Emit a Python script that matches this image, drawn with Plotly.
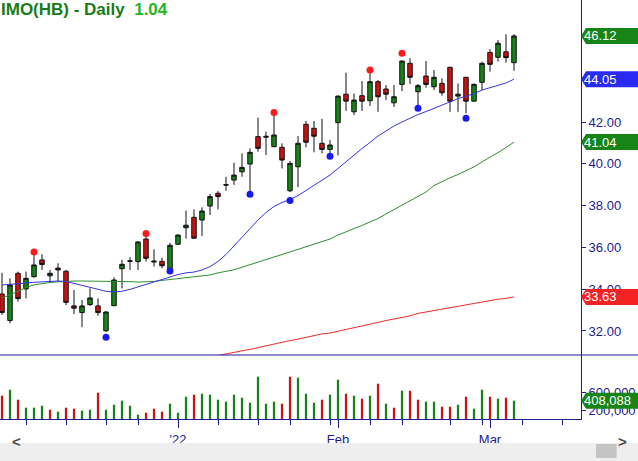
import plotly.graph_objects as go

# IMO(HB) daily bars, index = trading day (late Nov 2021 .. Mar 4 2022)
opens = [33.77, 32.50, 34.76, 34.01, 34.60, 35.40, 34.64, 35.01, 34.86, 33.20,
         32.88, 33.26, 33.20, 32.01, 33.21, 34.98, 35.36, 35.32, 36.40, 35.30,
         35.33, 34.95, 36.15, 36.94, 37.44, 37.31, 37.98, 38.59, 38.98, 39.22,
         39.62, 39.99, 41.30, 41.32, 40.82, 40.79, 38.71, 39.86, 41.89, 41.70,
         40.98, 40.69, 41.97, 43.33, 42.49, 43.26, 43.02, 43.93, 43.58, 42.92,
         43.80, 44.81, 43.45, 44.20, 43.69, 43.85, 44.62, 43.24, 44.14, 43.00,
         43.90, 45.33, 45.10, 45.36, 44.84]
highs = [34.78, 34.52, 34.84, 34.84, 35.64, 35.67, 34.92, 35.24, 34.92, 33.96,
         33.48, 34.04, 33.56, 32.93, 34.57, 35.40, 35.53, 36.30, 36.59, 35.91,
         35.51, 36.22, 36.62, 37.76, 37.82, 37.92, 38.56, 38.70, 39.38, 40.05,
         40.50, 40.74, 42.21, 41.54, 42.33, 40.98, 40.13, 41.33, 42.05, 42.05,
         42.15, 41.14, 43.27, 44.36, 43.37, 43.96, 44.36, 44.01, 43.77, 43.77,
         44.94, 45.05, 43.82, 44.92, 44.49, 44.09, 44.64, 43.85, 44.16, 43.85,
         44.89, 45.49, 45.92, 46.20, 46.20]
lows = [32.77, 32.37, 33.40, 33.56, 34.55, 34.92, 34.31, 34.36, 33.24, 32.81,
        32.18, 33.20, 32.73, 31.95, 33.20, 34.04, 34.92, 34.92, 35.32, 35.08,
        35.00, 34.93, 36.12, 36.42, 36.42, 36.55, 37.55, 37.82, 38.71, 38.99,
        39.38, 38.59, 40.58, 40.42, 40.80, 39.78, 38.65, 38.88, 40.79, 40.55,
        40.50, 40.47, 40.40, 42.53, 42.33, 42.53, 42.77, 42.49, 43.05, 42.72,
        43.48, 43.82, 42.77, 43.64, 43.53, 43.26, 42.49, 42.49, 42.42, 42.98,
        43.53, 44.41, 44.89, 44.84, 44.45]
closes = [32.88, 34.20, 33.55, 34.52, 35.16, 35.18, 34.76, 34.92, 33.37, 33.09,
          33.20, 33.58, 32.88, 32.91, 34.44, 35.19, 35.34, 36.26, 35.48, 35.34,
          35.12, 36.10, 36.59, 37.06, 36.44, 37.74, 38.43, 38.43, 39.00, 39.46,
          39.83, 40.55, 40.74, 41.28, 41.38, 40.18, 40.02, 40.98, 41.03, 41.32,
          40.69, 40.90, 43.24, 43.00, 43.05, 43.00, 43.93, 43.21, 43.33, 43.21,
          44.92, 44.14, 43.74, 43.80, 44.14, 43.40, 43.00, 43.33, 43.00, 43.80,
          44.81, 44.76, 45.77, 45.08, 46.12]
volumes = [520000, 653000, 430000, 252000, 252000, 297000, 207000, 163000, 252000, 230000,
           185000, 207000, 586000, 207000, 319000, 408000, 297000, 96000, 140000, 230000,
           163000, 341000, 140000, 497000, 542000, 564000, 542000, 430000, 386000, 542000,
           475000, 363000, 943000, 341000, 386000, 341000, 943000, 921000, 564000, 363000,
           430000, 542000, 876000, 564000, 520000, 453000, 520000, 787000, 341000, 252000,
           631000, 631000, 430000, 386000, 386000, 274000, 274000, 319000, 497000, 230000,
           653000, 497000, 453000, 475000, 408088]

ma_short = [34.20, 34.24, 34.28, 34.30, 34.33, 34.35, 34.38, 34.39, 34.37, 34.28,
            34.18, 34.08, 33.99, 33.90, 33.87, 33.90, 33.99, 34.11, 34.22, 34.33,
            34.46, 34.60, 34.70, 34.78, 34.82, 34.92, 35.08, 35.33, 35.66, 36.07,
            36.50, 36.90, 37.31, 37.67, 37.96, 38.15, 38.29, 38.48, 38.72, 38.94,
            39.18, 39.46, 39.78, 40.11, 40.40, 40.73, 41.02, 41.33, 41.57, 41.81,
            42.00, 42.19, 42.36, 42.50, 42.65, 42.81, 42.98, 43.12, 43.24, 43.36,
            43.53, 43.65, 43.77, 43.87, 44.05]
ma_mid = [33.58, 33.72, 33.91, 34.08, 34.21, 34.27, 34.32, 34.35, 34.38, 34.39,
          34.39, 34.39, 34.39, 34.39, 34.38, 34.37, 34.36, 34.34, 34.34, 34.37,
          34.42, 34.46, 34.51, 34.55, 34.58, 34.62, 34.68, 34.78, 34.86, 34.93,
          35.05, 35.18, 35.29, 35.42, 35.54, 35.66, 35.78, 35.90, 36.02, 36.16,
          36.29, 36.40, 36.59, 36.74, 36.88, 37.05, 37.22, 37.38, 37.60, 37.81,
          38.05, 38.27, 38.46, 38.65, 38.96, 39.15, 39.33, 39.49, 39.66, 39.85,
          40.09, 40.30, 40.54, 40.78, 41.04]
ma_long = [None] * 26 + [
    30.75, 30.83, 30.92, 30.99, 31.05, 31.12, 31.21, 31.29, 31.38, 31.46,
    31.54, 31.61, 31.69, 31.78, 31.86, 31.90, 31.98, 32.06, 32.14, 32.23,
    32.31, 32.41, 32.50, 32.57, 32.65, 32.72, 32.84, 32.91, 32.98, 33.05,
    33.12, 33.20, 33.27, 33.34, 33.41, 33.47, 33.52, 33.56, 33.63]

pivot_hi_idx = [4, 18, 34, 46, 50]
pivot_hi_val = [35.78, 36.67, 42.46, 44.49, 45.29]
pivot_lo_idx = [13, 21, 31, 36, 41, 52, 58]
pivot_lo_val = [31.70, 34.87, 38.54, 38.25, 40.36, 42.66, 42.18]

date_tick_idx = [22, 42, 61]
date_tick_txt = ["'22", "Feb", "Mar"]
week_tick_idx = [3, 8, 13, 17, 27, 32, 36, 41, 46, 50, 56, 60, 65, 70]
price_ticks = [32, 34, 36, 38, 40, 42]
vol_ticks = [200000, 600000]
change_txt = "1.04"

NAVY = "#1c1c8c"
GREEN = "#168416"
RED = "#cc1111"
FONT = "Liberation Sans, Arial, sans-serif"

x = list(range(len(closes)))
vol_colors = []
for i, c in enumerate(closes):
    ref = closes[i - 1] if i > 0 else opens[0]
    vol_colors.append(GREEN if c >= ref else RED)

fig = go.Figure()
fig.add_trace(go.Bar(x=x, y=volumes, width=0.28, marker=dict(color=vol_colors, line=dict(width=0)),
                     xaxis="x2", yaxis="y2"))
fig.add_trace(go.Scatter(x=x, y=ma_long, mode="lines", line=dict(color="#ee2a2a", width=1)))
fig.add_trace(go.Scatter(x=x, y=ma_mid, mode="lines", line=dict(color="#2f8f2f", width=1)))
fig.add_trace(go.Scatter(x=x, y=ma_short, mode="lines", line=dict(color="#3535e0", width=1)))
fig.add_trace(go.Candlestick(x=x, open=opens, high=highs, low=lows, close=closes, whiskerwidth=0,
                             increasing=dict(fillcolor=GREEN, line=dict(color="#111111", width=1)),
                             decreasing=dict(fillcolor=RED, line=dict(color="#111111", width=1))))
fig.add_trace(go.Scatter(x=pivot_hi_idx, y=pivot_hi_val, mode="markers",
                         marker=dict(color="#ff1a1a", size=7)))
fig.add_trace(go.Scatter(x=pivot_lo_idx, y=pivot_lo_val, mode="markers",
                         marker=dict(color="#1a1aee", size=7)))

H = 419
VOL_H = 64
vol_top = VOL_H / H
xr = [-0.25, -0.25 + 581 / 8]

fig.update_layout(
    width=638, height=461, margin=dict(l=0, r=57, t=0, b=42),
    paper_bgcolor="white", plot_bgcolor="white", showlegend=False, hovermode=False,
    boxgap=0.2,
    font=dict(family=FONT, size=13, color=NAVY),
    xaxis=dict(domain=[0, 1], anchor="y", range=xr, showticklabels=False, showgrid=False,
               zeroline=False, showline=False, ticks="", rangeslider=dict(visible=False)),
    xaxis2=dict(domain=[0, 1], anchor="y2", matches="x", range=xr, showgrid=False, zeroline=False,
                showline=True, linecolor=NAVY, linewidth=1, tickmode="array",
                tickvals=date_tick_idx, ticktext=date_tick_txt, ticks="outside", ticklen=8,
                tickcolor=NAVY, tickfont=dict(size=13, color=NAVY),
                minor=dict(tickmode="array", tickvals=week_tick_idx, ticks="outside",
                           ticklen=5, tickcolor=NAVY)),
    yaxis=dict(domain=[vol_top, 1], anchor="x", side="right", range=[30.85, 47.84],
               tickvals=price_ticks, tickformat=".2f", ticks="outside", ticklen=4,
               tickcolor=NAVY, showline=True, linecolor=NAVY, linewidth=1, showgrid=False,
               zeroline=False, automargin=False, tickfont=dict(size=13, color=NAVY)),
    yaxis2=dict(domain=[0, vol_top], anchor="x2", side="right", range=[0, VOL_H * 22300],
                tickvals=vol_ticks, tickformat=",d", ticks="outside", ticklen=4,
                tickcolor=NAVY, showline=True, linecolor=NAVY, linewidth=1, showgrid=False,
                zeroline=False, automargin=False, tickfont=dict(size=13, color=NAVY)),
)

# pane separator
fig.add_shape(type="line", xref="paper", yref="paper", x0=0, x1=1.1, y0=vol_top, y1=vol_top,
              line=dict(color=NAVY, width=1))

# last-value tags on the right axis
tags = [("y", closes[-1], GREEN, f"{closes[-1]:.2f}"),
        ("y", ma_short[-1], "#2a2af5", f"{ma_short[-1]:.2f}"),
        ("y", ma_mid[-1], GREEN, f"{ma_mid[-1]:.2f}"),
        ("y", ma_long[-1], "#f42222", f"{ma_long[-1]:.2f}"),
        ("y2", volumes[-1], GREEN, f"{volumes[-1]:,}")]
for yref, val, col, txt in tags:
    fig.add_shape(type="path", xref="paper", yref=yref, xsizemode="pixel", ysizemode="pixel",
                  xanchor=1, yanchor=val, path="M0,0 L5,8 L60,8 L60,-8 L5,-8 Z",
                  fillcolor=col, line=dict(width=0))
    fig.add_annotation(x=1, y=val, xref="paper", yref=yref, xanchor="left", yanchor="middle",
                       xshift=1, text=txt, showarrow=False, font=dict(size=13, color="white"))

# title
fig.add_annotation(x=0, y=1, xref="paper", yref="paper", xanchor="left", yanchor="top",
                   xshift=-1, yshift=2, showarrow=False, align="left",
                   text="<b>IMO(HB) - Daily\u00a0 <span style='color:#22b622'>" + change_txt + "</span></b>",
                   font=dict(size=17, color="#187c18", family=FONT))

# scroll bar strip under the chart
fig.add_shape(type="rect", xref="paper", yref="paper", x0=0, x1=1.1, y0=-0.1002, y1=-0.0573,
              fillcolor="#eeeeee", line=dict(width=0))
fig.add_shape(type="rect", xref="paper", yref="paper", x0=1.0258, x1=1.0614, y0=-0.0931, y1=-0.0597,
              fillcolor="#c4c4c4", line=dict(width=0))
fig.add_annotation(x=0.017, y=-0.079, xref="paper", yref="paper", text="<b>&lt;</b>", showarrow=False,
                   font=dict(size=15, color="#4a4a4a"))
fig.add_annotation(x=1.083, y=-0.079, xref="paper", yref="paper", text="<b>&gt;</b>", showarrow=False,
                   font=dict(size=15, color="#4a4a4a"))

fig.write_html("out.html", config={"displayModeBar": False},
               post_script="document.body.style.margin='0px';document.body.style.overflow='hidden';")
